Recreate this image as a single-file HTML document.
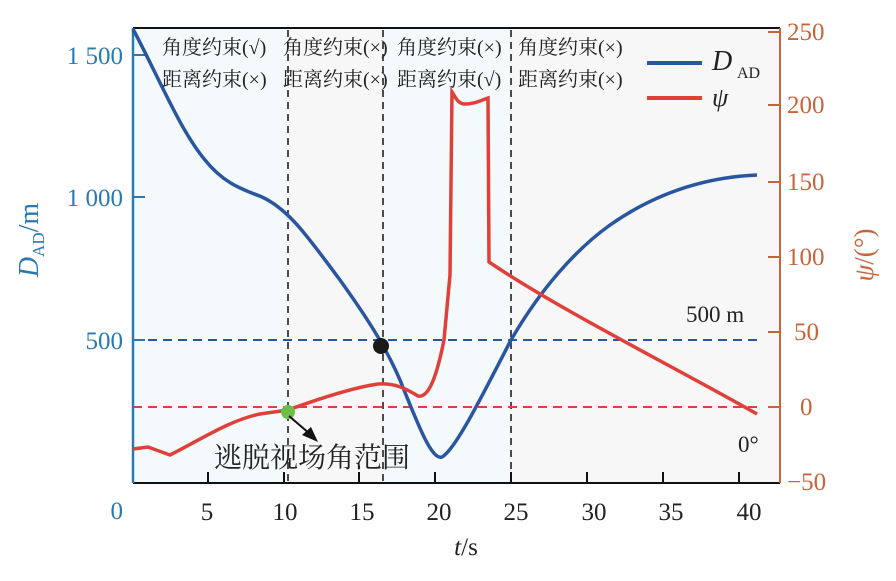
<!DOCTYPE html>
<html><head><meta charset="utf-8"><style>
body{margin:0;background:#fff;}
svg{display:block;font-family:"Liberation Serif","Noto Serif CJK SC",serif;}
</style></head><body>
<svg width="896" height="581" viewBox="0 0 896 581">
<rect x="133" y="28" width="155" height="455" fill="#f4fafb"/>
<rect x="288" y="28" width="95" height="455" fill="#f7f7f7"/>
<rect x="383" y="28" width="128" height="455" fill="#f4fafb"/>
<rect x="511" y="28" width="269" height="455" fill="#f7f7f7"/>
<g stroke="#222" stroke-width="1.6" stroke-dasharray="7,5">
<line x1="288" y1="30" x2="288" y2="483"/><line x1="383" y1="30" x2="383" y2="483"/><line x1="511" y1="30" x2="511" y2="483"/>
</g>
<line x1="133" y1="340" x2="757" y2="340" stroke="#2a56a0" stroke-width="2" stroke-dasharray="9,6"/>
<line x1="133" y1="407" x2="757" y2="407" stroke="#e0403a" stroke-width="2" stroke-dasharray="9,6"/>
<line x1="133" y1="28" x2="780" y2="28" stroke="#111" stroke-width="2"/>
<line x1="133" y1="483" x2="780" y2="483" stroke="#111" stroke-width="2"/>
<line x1="133" y1="28" x2="133" y2="483" stroke="#2a7ab0" stroke-width="2.5"/>
<line x1="780" y1="28" x2="780" y2="483" stroke="#c8643c" stroke-width="2"/>
<g stroke="#2a7ab0" stroke-width="2"><line x1="133" y1="55" x2="145" y2="55"/><line x1="133" y1="197" x2="145" y2="197"/><line x1="133" y1="340" x2="145" y2="340"/></g>
<g stroke="#c8643c" stroke-width="2"><line x1="768" y1="32" x2="780" y2="32"/><line x1="768" y1="105" x2="780" y2="105"/><line x1="768" y1="182" x2="780" y2="182"/><line x1="768" y1="257" x2="780" y2="257"/><line x1="768" y1="332" x2="780" y2="332"/><line x1="768" y1="407" x2="780" y2="407"/></g>
<g stroke="#111" stroke-width="2"><line x1="208" y1="483" x2="208" y2="472"/><line x1="284" y1="483" x2="284" y2="472"/><line x1="359" y1="483" x2="359" y2="472"/><line x1="435" y1="483" x2="435" y2="472"/><line x1="511" y1="483" x2="511" y2="472"/><line x1="587" y1="483" x2="587" y2="472"/><line x1="663" y1="483" x2="663" y2="472"/><line x1="739" y1="483" x2="739" y2="472"/></g>
<path d="M133,29 C160,80 180,130 205,160 C225,185 245,190 262,197 C290,210 310,240 340,280 C365,315 385,345 400,380 C420,430 432,460 442,457 C455,450 480,400 511,340 C540,290 575,250 610,225 C660,190 710,177 757,175" fill="none" stroke="#2a56a0" stroke-width="3.5"/>
<path d="M133,449 L148,447 L170,455 C200,440 230,420 260,414 L288,410 C310,402 350,388 378,384 C395,383 405,388 418,396 C428,398 436,380 444,340 L450,275 L452,92 C456,98 458,104 465,104 C475,104 482,100 488,98 L489,262 C560,310 680,370 757,414" fill="none" stroke="#e0403a" stroke-width="3.5"/>
<circle cx="288" cy="412" r="7" fill="#6cc04a"/>
<circle cx="381" cy="346" r="8" fill="#1a1a1a"/>
<line x1="289" y1="416" x2="310" y2="434" stroke="#111" stroke-width="2"/>
<polygon points="318,442 302,435 311,427" fill="#111"/>
<g font-size="20" fill="#222">
<text x="162" y="54">角度约束(√)</text><text x="162" y="86">距离约束(×)</text>
<text x="283" y="54">角度约束(×)</text><text x="283" y="86">距离约束(×)</text>
<text x="397" y="54">角度约束(×)</text><text x="397" y="86">距离约束(√)</text>
<text x="518" y="54">角度约束(×)</text><text x="518" y="86">距离约束(×)</text>
</g>
<line x1="647" y1="63" x2="702" y2="63" stroke="#2a56a0" stroke-width="4"/>
<line x1="647" y1="98" x2="702" y2="98" stroke="#e0403a" stroke-width="4"/>
<text x="712" y="70" font-size="28" font-style="italic" fill="#222">D</text><text x="737" y="78" font-size="16" fill="#222">AD</text>
<text x="712" y="106" font-size="26" font-style="italic" fill="#222">ψ</text>
<text x="686" y="322" font-size="23" fill="#222">500 m</text>
<text x="738" y="452" font-size="23" fill="#222">0°</text>
<text x="214" y="467" font-size="28" fill="#222">逃脱视场角范围</text>
<g font-size="25" fill="#2a7ab0" text-anchor="end">
<text x="123" y="64">1 500</text><text x="123" y="206">1 000</text><text x="123" y="349">500</text><text x="123" y="519">0</text>
</g>
<g font-size="25" fill="#c8643c">
<text x="787" y="40">250</text><text x="787" y="113">200</text><text x="787" y="190">150</text><text x="787" y="265">100</text><text x="794" y="340">50</text><text x="800" y="415">0</text><text x="787" y="490">−50</text>
</g>
<g font-size="25" fill="#222" text-anchor="middle">
<text x="207" y="520">5</text><text x="285" y="520">10</text><text x="362" y="520">15</text><text x="439" y="520">20</text><text x="516" y="520">25</text><text x="594" y="520">30</text><text x="671" y="520">35</text><text x="749" y="520">40</text>
</g>
<text x="466" y="555" font-size="25" fill="#222" text-anchor="middle"><tspan font-style="italic">t</tspan>/s</text>
<text transform="translate(38,240) rotate(-90)" font-size="28" fill="#2a7ab0" text-anchor="middle"><tspan font-style="italic">D</tspan><tspan font-size="17" dy="6">AD</tspan><tspan dy="-6">/m</tspan></text>
<text transform="translate(873,255) rotate(-90)" font-size="27" fill="#c8643c" text-anchor="middle"><tspan font-style="italic">ψ</tspan>/(°)</text>
</svg>
</body></html>
